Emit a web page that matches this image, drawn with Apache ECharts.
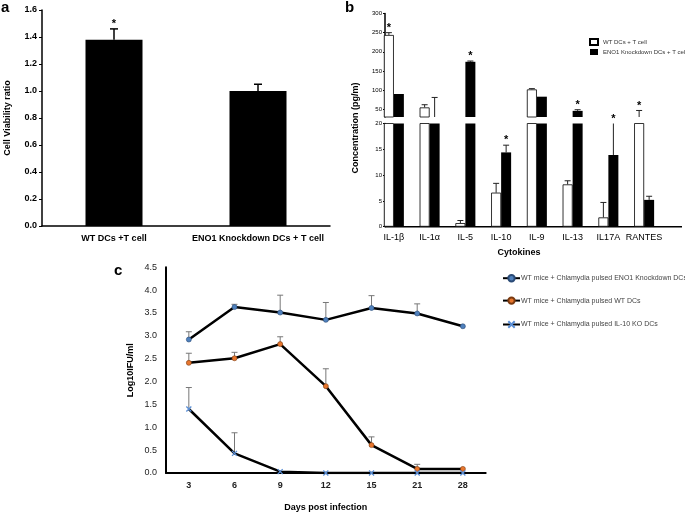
<!DOCTYPE html>
<html>
<head>
<meta charset="UTF-8" />
<title>ENO1 knockdown DCs</title>
<script src="https://cdn.jsdelivr.net/npm/echarts@6.0.0/dist/echarts.min.js"></script>
<style>
  html, body { margin: 0; padding: 0; background: #fff; }
  #chart { width: 685px; height: 513px; }
</style>
</head>
<body>
<div id="chart"></div>
<script>
// panel a - cell viability
const aGroups = ['WT DCs +T cell', 'ENO1 Knockdown DCs + T cell'];
const aMean = [1.38, 1.0];
const aErr = [1.46, 1.05];
const aSig = [1, 0];

// panel b - cytokines (broken y axis: 30-300 on top, 0-20 below)
const cytokines = ['IL-1\u03b2', 'IL-1\u03b1', 'IL-5', 'IL-10', 'IL-9', 'IL-13', 'IL17A', 'RANTES'];
const wtMean = [244, 55, 0.7, 6.6, 102, 8.2, 1.8, 25];
const wtErr  = [250, 62, 1.2, 8.4, 104, 8.9, 4.7, 47];
const wtSig  = [1, 0, 0, 0, 0, 0, 0, 1];
const koMean = [90, 25, 174, 14.4, 83, 46, 13.9, 5.2];
const koErr  = [90, 81, 176, 15.8, 83, 49, 25, 5.9];
const koSig  = [0, 0, 1, 1, 0, 1, 1, 0];
const upperTicks = [50, 100, 150, 200, 250, 300];

// panel c - infection course
const days = ['3', '6', '9', '12', '15', '21', '28'];
const enoLine = [2.92, 3.63, 3.51, 3.35, 3.61, 3.49, 3.21];
const enoErr  = [3.09, 3.69, 3.89, 3.73, 3.88, 3.70, 3.21];
const wtLine  = [2.41, 2.51, 2.82, 1.90, 0.61, 0.09, 0.09];
const wtLineErr = [2.62, 2.64, 2.98, 2.28, 0.79, 0.19, 0.09];
const koLine  = [1.40, 0.43, 0.03, 0, 0, 0, 0];
const koLineErr = [1.87, 0.88, 0.03, 0, 0, 0, 0];

const FONT = 'Liberation Sans, Arial, sans-serif';
const wtName = 'WT DCs + T cell';
const koName = 'ENO1 Knockdown DCs + T cell';

// error bar: line from mean up to err with a cap on top
function errSeries(xi, yi, cats, mean, err, dx, color, cap, width, clip) {
  return {
    type: 'custom', xAxisIndex: xi, yAxisIndex: yi, clip: clip, silent: true, z: 1,
    data: cats.map((c, i) => [i, mean[i], err[i]]),
    renderItem(params, api) {
      const m = api.value(1), e = api.value(2);
      if (!(e > m)) return;
      const p0 = api.coord([api.value(0), m]);
      const p1 = api.coord([api.value(0), e]);
      const x = p0[0] + dx;
      const st = { stroke: color, lineWidth: width };
      return { type: 'group', children: [
        { type: 'line', shape: { x1: x, y1: p0[1], x2: x, y2: p1[1] }, style: st },
        { type: 'line', shape: { x1: x - cap, y1: p1[1], x2: x + cap, y2: p1[1] }, style: st }
      ] };
    }
  };
}

// significance star above the highest point of a bar/error
function starSeries(xi, yi, cats, mean, err, sig, dx, pick) {
  return {
    type: 'custom', xAxisIndex: xi, yAxisIndex: yi, clip: false, silent: true, z: 5,
    data: cats.map((c, i) => [i, Math.max(mean[i], err[i]), sig[i]]),
    renderItem(params, api) {
      if (!api.value(2)) return;
      const top = api.value(1);
      if (pick && !pick(top)) return;
      const p = api.coord([api.value(0), top]);
      const y = Math.max(p[1], params.coordSys.y);
      return { type: 'text', style: { text: '*', x: p[0] + dx, y: y - 5, align: 'center', verticalAlign: 'middle', font: 'bold 11px ' + FONT, fill: '#000' } };
    }
  };
}

const upperMin = 30;
const chart = echarts.init(document.getElementById('chart'));

chart.setOption({
  animation: false,
  backgroundColor: '#fff',
  textStyle: { fontFamily: FONT },
  graphic: [
    { type: 'text', left: 1, top: 0, style: { text: 'a', font: 'bold 15px ' + FONT, fill: '#000' } },
    { type: 'text', left: 345, top: 0, style: { text: 'b', font: 'bold 15px ' + FONT, fill: '#000' } },
    { type: 'text', left: 114, top: 263, style: { text: 'c', font: 'bold 15px ' + FONT, fill: '#000' } },
    { type: 'text', x: 356, y: 128, rotation: Math.PI / 2, style: { text: 'Concentration (pg/m)', align: 'center', verticalAlign: 'middle', font: 'bold 9px ' + FONT, fill: '#000' } },
    { type: 'line', shape: { x1: 385, y1: 226.7, x2: 682, y2: 226.7 }, style: { stroke: '#000', lineWidth: 1.5 } }
  ],
  legend: [
    {
      data: [wtName, koName], left: 584, top: 33, orient: 'vertical',
      icon: 'rect', itemWidth: 8, itemHeight: 6, itemGap: 3,
      textStyle: { fontSize: 6, color: '#333', fontFamily: FONT }, selectedMode: false
    },
    {
      data: ['WT mice + Chlamydia pulsed ENO1 Knockdown DCs', 'WT mice + Chlamydia pulsed WT DCs', 'WT mice + Chlamydia pulsed IL-10 KO DCs'],
      left: 497, top: 269, orient: 'vertical', itemWidth: 17, itemHeight: 8, itemGap: 14,
      textStyle: { fontSize: 7, color: '#444', fontFamily: FONT, padding: [0, 0, 0, -4] }, selectedMode: false
    }
  ],
  grid: [
    { left: 42, top: 10, width: 288, height: 216 },
    { left: 376, top: 13.5, width: 286, height: 103.5 },
    { left: 376, top: 123.5, width: 286, height: 103.2 },
    { left: 166, top: 267.3, width: 319.7, height: 208.7 }
  ],
  xAxis: [
    {
      gridIndex: 0, type: 'category', data: aGroups,
      axisLine: { lineStyle: { color: '#000', width: 1.5 } }, axisTick: { show: false },
      axisLabel: { color: '#000', fontWeight: 'bold', fontSize: 9, margin: 8, interval: 0, hideOverlap: false }
    },
    { gridIndex: 1, type: 'category', data: cytokines, show: false },
    {
      gridIndex: 2, type: 'category', data: cytokines,
      axisLine: { show: false },
      axisTick: { alignWithLabel: true, interval: 0, length: 3, lineStyle: { color: '#000' } },
      axisLabel: { color: '#000', fontSize: 9, margin: 6, interval: 0, hideOverlap: false },
      name: 'Cytokines', nameLocation: 'middle', nameGap: 21,
      nameTextStyle: { fontWeight: 'bold', fontSize: 9, color: '#000' }
    },
    {
      gridIndex: 3, type: 'category', data: days,
      axisLine: { lineStyle: { color: '#000', width: 2 } }, axisTick: { show: false },
      axisLabel: { color: '#222', fontSize: 9, fontWeight: 'bold', margin: 8, interval: 0 },
      name: 'Days post infection', nameLocation: 'middle', nameGap: 30,
      nameTextStyle: { fontWeight: 'bold', fontSize: 9, color: '#000' }
    }
  ],
  yAxis: [
    {
      gridIndex: 0, type: 'value', min: 0, max: 1.6, interval: 0.2,
      axisLine: { show: true, lineStyle: { color: '#000', width: 1.5 } },
      axisTick: { show: true, length: 3, lineStyle: { color: '#000' } },
      splitLine: { show: false },
      axisLabel: { color: '#000', fontWeight: 'bold', fontSize: 9, margin: 5, formatter: v => v.toFixed(1) },
      name: 'Cell Viability ratio', nameLocation: 'middle', nameGap: 30,
      nameTextStyle: { fontWeight: 'bold', fontSize: 9, color: '#000' }
    },
    {
      gridIndex: 1, type: 'value', min: upperMin, max: 300, offset: -9,
      axisLine: { show: true, lineStyle: { color: '#000', width: 1.5 } },
      axisTick: { show: true, length: 2, customValues: upperTicks, lineStyle: { color: '#000' } },
      splitLine: { show: false },
      axisLabel: { color: '#000', fontSize: 6, margin: 3, customValues: upperTicks }
    },
    {
      gridIndex: 2, type: 'value', min: 0, max: 20, interval: 5, offset: -9,
      axisLine: { show: true, lineStyle: { color: '#000', width: 1.5 } },
      axisTick: { show: true, length: 2, lineStyle: { color: '#000' } },
      splitLine: { show: false },
      axisLabel: { color: '#000', fontSize: 6, margin: 3 }
    },
    {
      gridIndex: 3, type: 'value', min: 0, max: 4.5, interval: 0.5,
      axisLine: { show: true, lineStyle: { color: '#000', width: 2 } },
      axisTick: { show: false }, splitLine: { show: false },
      axisLabel: { color: '#222', fontSize: 9, margin: 9, formatter: v => v.toFixed(1) },
      name: 'Log10IFU/ml', nameLocation: 'middle', nameGap: 31,
      nameTextStyle: { fontWeight: 'bold', fontSize: 9, color: '#000' }
    }
  ],
  series: [
    // a
    { type: 'bar', xAxisIndex: 0, yAxisIndex: 0, data: aMean, barWidth: 57, itemStyle: { color: '#000' }, z: 2 },
    errSeries(0, 0, aGroups, aMean, aErr, 0, '#000', 4, 1.5, false),
    starSeries(0, 0, aGroups, aMean, aErr, aSig, 0),

    // b upper
    { type: 'bar', name: wtName, xAxisIndex: 1, yAxisIndex: 1, data: wtMean, barWidth: 10, barGap: '0%',
      itemStyle: { color: '#fff', borderColor: '#000', borderWidth: 0.8 }, z: 2 },
    { type: 'bar', name: koName, xAxisIndex: 1, yAxisIndex: 1, data: koMean, barWidth: 10, barGap: '0%',
      itemStyle: { color: '#000' }, z: 2 },
    errSeries(1, 1, cytokines, wtMean, wtErr, -5, '#222', 3, 1, true),
    errSeries(1, 1, cytokines, koMean, koErr, 5, '#222', 3, 1, true),
    starSeries(1, 1, cytokines, wtMean, wtErr, wtSig, -5, t => t > upperMin),
    starSeries(1, 1, cytokines, koMean, koErr, koSig, 5, t => t > upperMin),

    // b lower
    { type: 'bar', name: wtName, xAxisIndex: 2, yAxisIndex: 2, data: wtMean, barWidth: 10, barGap: '0%',
      itemStyle: { color: '#fff', borderColor: '#000', borderWidth: 0.8 }, z: 2 },
    { type: 'bar', name: koName, xAxisIndex: 2, yAxisIndex: 2, data: koMean, barWidth: 10, barGap: '0%',
      itemStyle: { color: '#000' }, z: 2 },
    errSeries(2, 2, cytokines, wtMean, wtErr, -5, '#222', 3, 1, true),
    errSeries(2, 2, cytokines, koMean, koErr, 5, '#222', 3, 1, true),
    starSeries(2, 2, cytokines, wtMean, wtErr, wtSig, -5, t => t <= upperMin),
    starSeries(2, 2, cytokines, koMean, koErr, koSig, 5, t => t <= upperMin),

    // c
    errSeries(3, 3, days, enoLine, enoErr, 0, '#777', 3, 1, false),
    errSeries(3, 3, days, wtLine, wtLineErr, 0, '#777', 3, 1, false),
    errSeries(3, 3, days, koLine, koLineErr, 0, '#777', 3, 1, false),
    {
      type: 'line', name: 'WT mice + Chlamydia pulsed ENO1 Knockdown DCs', xAxisIndex: 3, yAxisIndex: 3, data: enoLine,
      symbol: 'circle', symbolSize: 5, lineStyle: { color: '#000', width: 2.5 },
      itemStyle: { color: '#4f81bd', borderColor: '#2a4a75', borderWidth: 0.6 }, z: 3
    },
    {
      type: 'line', name: 'WT mice + Chlamydia pulsed WT DCs', xAxisIndex: 3, yAxisIndex: 3, data: wtLine,
      symbol: 'circle', symbolSize: 5, lineStyle: { color: '#000', width: 2.5 },
      itemStyle: { color: '#e8762d', borderColor: '#7a3a10', borderWidth: 0.6 }, z: 3
    },
    {
      type: 'line', name: 'WT mice + Chlamydia pulsed IL-10 KO DCs', xAxisIndex: 3, yAxisIndex: 3, data: koLine,
      symbol: 'path://M0,0L10,10M10,0L0,10', symbolSize: 5, lineStyle: { color: '#000', width: 2.5 },
      itemStyle: { color: 'none', borderColor: '#5b8fd6', borderWidth: 1.3 }, z: 3
    }
  ]
});
</script>
</body>
</html>
